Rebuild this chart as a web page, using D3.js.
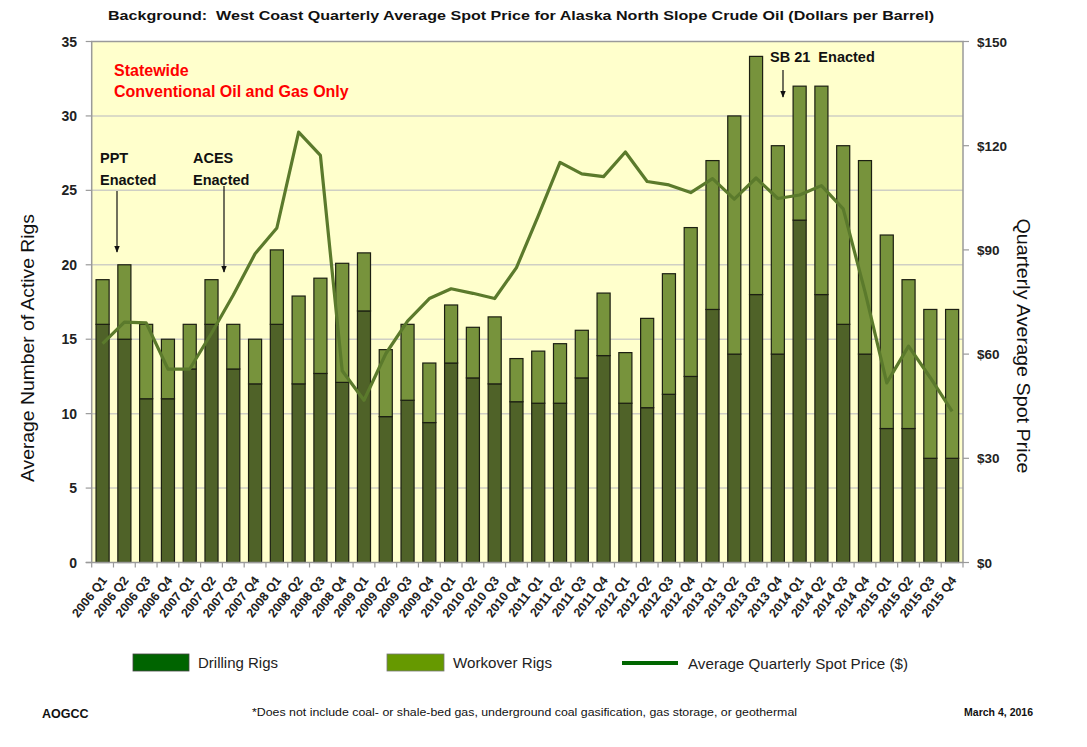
<!DOCTYPE html>
<html>
<head>
<meta charset="utf-8">
<script src="https://cdn.jsdelivr.net/npm/d3@7"></script>
<style>
  body { margin: 0; background: #fff; }
  svg { display: block; }
</style>
</head>
<body>
<svg></svg>
<script>
// data
let quarters = [
  '2006 Q1', '2006 Q2', '2006 Q3', '2006 Q4', '2007 Q1', '2007 Q2', '2007 Q3', '2007 Q4',
  '2008 Q1', '2008 Q2', '2008 Q3', '2008 Q4', '2009 Q1', '2009 Q2', '2009 Q3', '2009 Q4',
  '2010 Q1', '2010 Q2', '2010 Q3', '2010 Q4', '2011 Q1', '2011 Q2', '2011 Q3', '2011 Q4',
  '2012 Q1', '2012 Q2', '2012 Q3', '2012 Q4', '2013 Q1', '2013 Q2', '2013 Q3', '2013 Q4',
  '2014 Q1', '2014 Q2', '2014 Q3', '2014 Q4', '2015 Q1', '2015 Q2', '2015 Q3', '2015 Q4'
];
let drilling = [
  16, 15, 11, 11, 13, 16, 13, 12, 16, 12, 12.7, 12.1, 16.9, 9.8, 10.9, 9.4,
  13.4, 12.4, 12, 10.8, 10.7, 10.7, 12.4, 13.9, 10.7, 10.4, 11.3, 12.5, 17, 14, 18, 14,
  23, 18, 16, 14, 9, 9, 7, 7
];
let workover = [
  3, 5, 5, 4, 3, 3, 3, 3, 5, 5.9, 6.4, 8.0, 3.9, 4.5, 5.1, 4.0,
  3.9, 3.4, 4.5, 2.9, 3.5, 4.0, 3.2, 4.2, 3.4, 6.0, 8.1, 10, 10, 16, 16, 14,
  9, 14, 12, 13, 13, 10, 10, 10
];
let price = [
  63, 69.2, 69, 55.7, 55.7, 66, 77, 88.9, 96.3, 123.9, 117.2, 55.2, 46.7, 60.1, 69.5, 76,
  78.8, 77.5, 76, 84.9, 99.8, 115.2, 111.9, 111.1, 118.2, 109.7, 108.7, 106.5, 110.5, 104.6, 110.7, 104.8,
  105.8, 108.5, 101.8, 78, 51.7, 62.3, 53.2, 43.5
];
let rigTicks = [0, 5, 10, 15, 20, 25, 30, 35];
let priceTicks = [0, 30, 60, 90, 120, 150];

// configuration of svg/plot area
let config = { svg: {}, plot: {} };
config.svg.width = 1087;
config.svg.height = 747;
config.plot.x = 91.7;
config.plot.y = 41.5;
config.plot.width = 963 - config.plot.x;
config.plot.height = 562.5 - config.plot.y;

let svg = d3.select('svg')
  .attr('width', config.svg.width)
  .attr('height', config.svg.height);

let x = d3.scaleBand()
  .domain(quarters)
  .range([config.plot.x, config.plot.x + config.plot.width])
  .paddingInner(0.4)
  .paddingOuter(0.2);

let yRigs = d3.scaleLinear()
  .domain([0, 35])
  .range([config.plot.y + config.plot.height, config.plot.y]);

let yPrice = d3.scaleLinear()
  .domain([0, 150])
  .range([config.plot.y + config.plot.height, config.plot.y]);

let bottom = config.plot.y + config.plot.height;
let right = config.plot.x + config.plot.width;

// arrow marker
svg.append('defs').append('marker')
  .attr('id', 'arrow')
  .attr('viewBox', '0 0 10 10')
  .attr('refX', 9).attr('refY', 5)
  .attr('markerWidth', 6).attr('markerHeight', 6)
  .attr('orient', 'auto')
  .append('path')
  .attr('d', 'M0,1 L10,5 L0,9 Z')
  .attr('fill', '#111');

// plot background
svg.append('rect')
  .attr('x', config.plot.x)
  .attr('y', config.plot.y)
  .attr('width', config.plot.width)
  .attr('height', config.plot.height)
  .attr('fill', '#ffffcc');

// grid
svg.append('g')
  .selectAll('line')
  .data(rigTicks.slice(1, -1))
  .join('line')
  .attr('x1', config.plot.x).attr('x2', right)
  .attr('y1', d => yRigs(d)).attr('y2', d => yRigs(d))
  .attr('stroke', '#cfcfc4')
  .attr('stroke-width', 1.5);

// plot border (top + right) and left axis
svg.append('path')
  .attr('d', `M${config.plot.x},${bottom}V${config.plot.y}H${right}V${bottom}`)
  .attr('fill', 'none')
  .attr('stroke', '#9a9a9a')
  .attr('stroke-width', 1.5);

// bars
let bars = svg.append('g');
bars.selectAll('rect.drill')
  .data(quarters)
  .join('rect')
  .attr('class', 'drill')
  .attr('x', d => x(d))
  .attr('width', x.bandwidth())
  .attr('y', (d, i) => yRigs(drilling[i]))
  .attr('height', (d, i) => bottom - yRigs(drilling[i]))
  .attr('fill', '#4f6228')
  .attr('stroke', '#1c1f12')
  .attr('stroke-width', 1.2);

bars.selectAll('rect.work')
  .data(quarters)
  .join('rect')
  .attr('class', 'work')
  .attr('x', d => x(d))
  .attr('width', x.bandwidth())
  .attr('y', (d, i) => yRigs(drilling[i] + workover[i]))
  .attr('height', (d, i) => yRigs(drilling[i]) - yRigs(drilling[i] + workover[i]))
  .attr('fill', '#77933c')
  .attr('stroke', '#1c1f12')
  .attr('stroke-width', 1.2);

// price line
let line = d3.line()
  .x((d, i) => x(quarters[i]) + x.bandwidth() / 2)
  .y(d => yPrice(d));

svg.append('path')
  .datum(price)
  .attr('d', line)
  .attr('fill', 'none')
  .attr('stroke', '#5b7a2c')
  .attr('stroke-width', 3.2)
  .attr('stroke-linejoin', 'round');

// bottom axis line and ticks between categories
svg.append('line')
  .attr('x1', config.plot.x - 6).attr('x2', right)
  .attr('y1', bottom).attr('y2', bottom)
  .attr('stroke', '#9a9a9a').attr('stroke-width', 1.5);

svg.append('g')
  .selectAll('line')
  .data(d3.range(quarters.length + 1))
  .join('line')
  .attr('x1', i => config.plot.x + i * x.step())
  .attr('x2', i => config.plot.x + i * x.step())
  .attr('y1', bottom).attr('y2', bottom + 5)
  .attr('stroke', '#9a9a9a').attr('stroke-width', 1.2);

// left ticks + labels
svg.append('g')
  .selectAll('line')
  .data(rigTicks)
  .join('line')
  .attr('x1', config.plot.x - 6).attr('x2', config.plot.x)
  .attr('y1', d => yRigs(d)).attr('y2', d => yRigs(d))
  .attr('stroke', '#9a9a9a').attr('stroke-width', 1.2);

svg.append('g')
  .selectAll('text')
  .data(rigTicks)
  .join('text')
  .attr('x', 77)
  .attr('y', d => yRigs(d) + 5)
  .attr('text-anchor', 'end')
  .attr('font-family', 'Liberation Sans, Arial, sans-serif')
  .attr('font-weight', 'bold')
  .attr('font-size', 14)
  .attr('fill', '#222')
  .text(d => d);

// right ticks + labels
svg.append('g')
  .selectAll('line')
  .data(priceTicks)
  .join('line')
  .attr('x1', right).attr('x2', right + 6)
  .attr('y1', d => yPrice(d)).attr('y2', d => yPrice(d))
  .attr('stroke', '#9a9a9a').attr('stroke-width', 1.2);

svg.append('g')
  .selectAll('text')
  .data(priceTicks)
  .join('text')
  .attr('x', 977)
  .attr('y', d => yPrice(d) + 5)
  .attr('font-family', 'Liberation Sans, Arial, sans-serif')
  .attr('font-weight', 'bold')
  .attr('font-size', 13.5)
  .attr('fill', '#222')
  .text(d => '$' + d);

// x tick labels (rotated)
svg.append('g')
  .selectAll('text')
  .data(quarters)
  .join('text')
  .attr('transform', d => `translate(${x(d) + x.bandwidth() / 2 + 5},${bottom + 18}) rotate(-52)`)
  .attr('text-anchor', 'end')
  .attr('font-family', 'Liberation Sans, Arial, sans-serif')
  .attr('font-weight', 'bold')
  .attr('font-size', 12.5)
  .attr('fill', '#222')
  .text(d => d);

// axis titles
svg.append('text')
  .attr('transform', 'translate(34,348) rotate(-90)')
  .attr('text-anchor', 'middle')
  .attr('font-family', 'Liberation Sans, Arial, sans-serif')
  .attr('font-size', 18)
  .attr('textLength', 268)
  .attr('lengthAdjust', 'spacingAndGlyphs')
  .attr('fill', '#111')
  .text('Average Number of Active Rigs');

svg.append('text')
  .attr('transform', 'translate(1017,346) rotate(90)')
  .attr('text-anchor', 'middle')
  .attr('font-family', 'Liberation Sans, Arial, sans-serif')
  .attr('font-size', 18)
  .attr('textLength', 255)
  .attr('lengthAdjust', 'spacingAndGlyphs')
  .attr('fill', '#111')
  .text('Quarterly Average Spot Price');

// chart title
svg.append('text')
  .attr('x', 108)
  .attr('y', 20)
  .attr('font-family', 'Liberation Sans, Arial, sans-serif')
  .attr('font-weight', 'bold')
  .attr('font-size', 13.5)
  .attr('textLength', 826)
  .attr('lengthAdjust', 'spacingAndGlyphs')
  .attr('fill', '#111')
  .attr('xml:space', 'preserve')
  .style('white-space', 'pre')
  .text('Background:  West Coast Quarterly Average Spot Price for Alaska North Slope Crude Oil (Dollars per Barrel)');

// red note
let note = svg.append('g')
  .attr('font-family', 'Liberation Sans, Arial, sans-serif')
  .attr('font-weight', 'bold')
  .attr('font-size', 16)
  .attr('fill', '#ff0000');
note.append('text').attr('x', 114).attr('y', 76).text('Statewide');
note.append('text').attr('x', 114).attr('y', 97).text('Conventional Oil and Gas Only');

// annotations
let ann = svg.append('g')
  .attr('font-family', 'Liberation Sans, Arial, sans-serif')
  .attr('font-weight', 'bold')
  .attr('font-size', 14.5)
  .attr('fill', '#111');
ann.append('text').attr('x', 100).attr('y', 163).text('PPT');
ann.append('text').attr('x', 100).attr('y', 185).text('Enacted');
ann.append('text').attr('x', 193).attr('y', 163).text('ACES');
ann.append('text').attr('x', 193).attr('y', 185).text('Enacted');
ann.append('text').attr('x', 770).attr('y', 62)
  .style('white-space', 'pre').text('SB 21  Enacted');

let arrows = [
  [117, 191, 117, 252],
  [224, 186, 224, 272],
  [783, 70, 783, 97]
];
svg.append('g')
  .selectAll('line')
  .data(arrows)
  .join('line')
  .attr('x1', d => d[0]).attr('y1', d => d[1])
  .attr('x2', d => d[2]).attr('y2', d => d[3])
  .attr('stroke', '#111')
  .attr('stroke-width', 1.2)
  .attr('marker-end', 'url(#arrow)');

// legend
let legend = svg.append('g')
  .attr('font-family', 'Liberation Sans Narrow, Arial Narrow, Liberation Sans, sans-serif')
  .attr('font-size', 15)
  .attr('fill', '#222');

legend.append('rect').attr('x', 133).attr('y', 654).attr('width', 56).attr('height', 17)
  .attr('fill', '#006400').attr('stroke', '#444').attr('stroke-width', 0.8);
legend.append('text').attr('x', 198).attr('y', 668)
  .attr('textLength', 80).attr('lengthAdjust', 'spacingAndGlyphs').text('Drilling Rigs');

legend.append('rect').attr('x', 387).attr('y', 654).attr('width', 57).attr('height', 17)
  .attr('fill', '#669900').attr('stroke', '#777').attr('stroke-width', 0.8);
legend.append('text').attr('x', 453).attr('y', 668)
  .attr('textLength', 99).attr('lengthAdjust', 'spacingAndGlyphs').text('Workover Rigs');

legend.append('line').attr('x1', 622).attr('x2', 678).attr('y1', 663).attr('y2', 663)
  .attr('stroke', '#006600').attr('stroke-width', 4);
legend.append('text').attr('x', 688).attr('y', 669)
  .attr('textLength', 220).attr('lengthAdjust', 'spacingAndGlyphs').text('Average Quarterly Spot Price ($)');

// footer
let foot = svg.append('g')
  .attr('font-family', 'Liberation Sans, Arial, sans-serif')
  .attr('fill', '#111');
foot.append('text').attr('x', 42).attr('y', 718)
  .attr('font-weight', 'bold').attr('font-size', 12.5).text('AOGCC');
foot.append('text').attr('x', 252).attr('y', 716)
  .attr('font-size', 10.5)
  .attr('textLength', 545).attr('lengthAdjust', 'spacingAndGlyphs')
  .text('*Does not include coal- or shale-bed gas, underground coal gasification, gas storage, or geothermal');
foot.append('text').attr('x', 1033).attr('y', 716)
  .attr('text-anchor', 'end')
  .attr('font-weight', 'bold').attr('font-size', 10.5).text('March 4, 2016');
</script>
</body>
</html>
